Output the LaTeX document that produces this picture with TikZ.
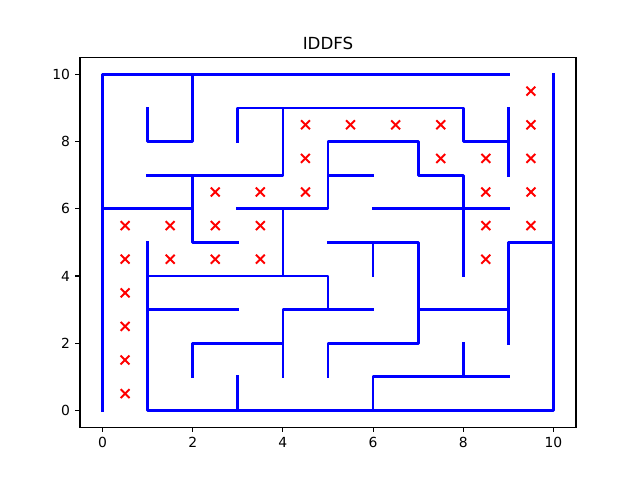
\documentclass[tikz,border=0pt]{standalone}
\usepackage{fontspec}
\setmainfont{DejaVu Sans}
\begin{document}
\begin{tikzpicture}[x=32.465pt,y=24.192pt,
  wall/.style={draw=blue, line width=2pt, line cap=rect, line join=round},
  frame/.style={draw=black, line width=0.8pt},
  tickmark/.style={draw=black, line width=0.8pt},
  ticklabel/.style={inner sep=0pt, font=\fontsize{10}{12}\selectfont},
  visited/.style={draw=red, line width=1.4pt}]
\useasboundingbox (-2.2743,-2.0714) rectangle (11.9195,12.2143);
% walls
\draw[wall] (0,0)--(0,10)--(9,10);
\draw[wall] (1,5)--(1,0)--(10,0)--(10,10);
\draw[wall] (2,10)--(2,8)--(1,8)--(1,9);
\draw[wall] (3,8)--(3,9)--(8,9)--(8,8)--(9,8);
\draw[wall] (9,9)--(9,7);
\draw[wall] (4,9)--(4,7)--(1,7);
\draw[wall] (2,7)--(2,5)--(3,5);
\draw[wall] (0,6)--(2,6);
\draw[wall] (3,6)--(5,6)--(5,8)--(7,8)--(7,7)--(8,7)--(8,4);
\draw[wall] (5,7)--(6,7);
\draw[wall] (6,6)--(9,6);
\draw[wall] (4,6)--(4,4);
\draw[wall] (1,4)--(5,4)--(5,3);
\draw[wall] (4,1)--(4,3)--(6,3);
\draw[wall] (1,3)--(3,3);
\draw[wall] (2,1)--(2,2)--(4,2);
\draw[wall] (3,0)--(3,1);
\draw[wall] (5,1)--(5,2)--(7,2)--(7,5)--(5,5);
\draw[wall] (6,5)--(6,4);
\draw[wall] (7,3)--(9,3);
\draw[wall] (9,2)--(9,5)--(10,5);
\draw[wall] (6,0)--(6,1)--(9,1);
\draw[wall] (8,1)--(8,2);
% visited cells
\foreach \p in {{9.5,9.5},
  {4.5,8.5},{5.5,8.5},{6.5,8.5},{7.5,8.5},{9.5,8.5},
  {4.5,7.5},{7.5,7.5},{8.5,7.5},{9.5,7.5},
  {2.5,6.5},{3.5,6.5},{4.5,6.5},{8.5,6.5},{9.5,6.5},
  {0.5,5.5},{1.5,5.5},{2.5,5.5},{3.5,5.5},{8.5,5.5},{9.5,5.5},
  {0.5,4.5},{1.5,4.5},{2.5,4.5},{3.5,4.5},{8.5,4.5},
  {0.5,3.5},{0.5,2.5},{0.5,1.5},{0.5,0.5}}
{
  \draw[visited] (\p) ++(-3.2pt,-3.2pt) -- ++(6.4pt,6.4pt);
  \draw[visited] (\p) ++(-3.2pt,3.2pt) -- ++(6.4pt,-6.4pt);
}
% axes frame
\draw[frame] (-0.5,-0.5) rectangle (10.5,10.5);
% ticks
\foreach \v in {0,2,4,6,8,10}{
  \draw[tickmark] (\v,-0.5) -- ++(0,-3.5pt);
  \node[ticklabel, anchor=north] at ([yshift=-7pt]\v,-0.5) {\v};
  \draw[tickmark] (-0.5,\v) -- ++(-3.5pt,0);
  \node[ticklabel, anchor=east] at ([xshift=-7pt]-0.5,\v) {\v};
}
% title
\node[anchor=base, inner sep=0pt, font=\fontsize{12}{14}\selectfont] (title) at ([yshift=6pt]5,10.5) {IDDFS};
\end{tikzpicture}
\end{document}
